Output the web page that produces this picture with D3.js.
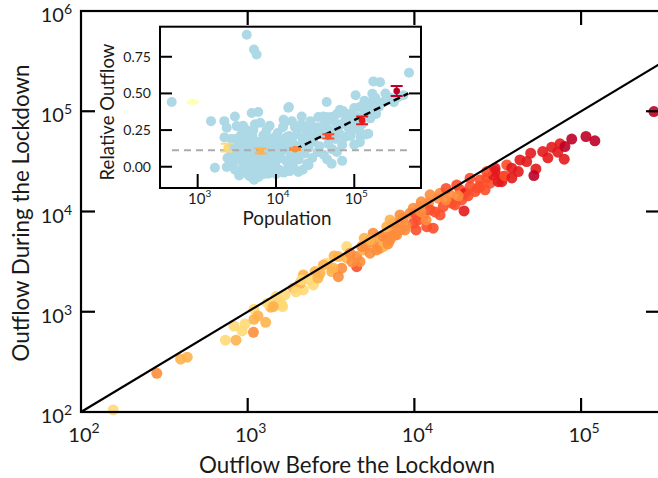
<!DOCTYPE html>
<html><head><meta charset="utf-8">
<script src="https://cdn.jsdelivr.net/npm/d3@7"></script>
<style>
body{margin:0;background:#fff}
svg{display:block}
text{font-family:Lato,'Open Sans',sans-serif;fill:#1a1a1a}
</style>
</head><body>
<svg id="c" width="658" height="478"></svg>
<script>
// ---------- main scatter: outflow before vs during lockdown ----------
const outflowBefore = [156,285,396,434,735,851,828,964,1082,1091,1091,1282,1374,1312,1528,1622,1479,1675,1600,1880,
  2158,2158,2477,2535,2979,3192,3499,3665,3926,4509,4509,4721,4943,5420,5807,6223,6223,6823,7145,7656,
  8000,3926,3499,2844,2366,2061,6500,6823,7470,7830,8200,8570,9420,9840,10550,11300,11860,10820,12140,12420,
  13900,14890,16370,16750,18790,19230,20140,19860,21580,23120,24790,27160,28440,30480,31870,8790,7145,6500,33420,34150,
  35810,38370,42010,42980,47170,49860,53580,52120,58880,66680,72440,74700,79250,80000,87900,107000,121000,273500,24790,29720,
  5660,12970,5940,4830,4110,1563,1426,2716,2109,10090,12420,14260,17950,21580,27160,30480,9860,8200,7145,11000,
  15500,5000,3300,
  6950,8910,10230,10960,13300,15490,17540,20990,24100,34900,38460,63200,5130,4230,3250,2640,1950,1153,925,5420,
  7350,11750,18300,14260,26550];
const outflowDuring = [105,243,336,352,520,520,721,755,624,841,1060,785,1110,1216,1233,1125,1416,1472,1169,1718,
  2328,1652,1851,2514,3048,2514,2240,2717,3420,3548,2818,3162,4140,3837,4831,4305,5610,5210,6545,5834,
  7640,4470,3548,2930,2075,1923,5610,7060,7640,5850,6545,8570,9620,7640,8240,8890,7060,11190,12100,10380,
  13590,11190,14660,12100,16440,13060,15240,10140,17740,15820,20650,21480,19140,25000,19860,6545,5210,4470,19860,22280,
  29170,27040,25000,32730,31480,38190,26610,22800,39630,43850,39080,47320,33270,44460,52720,55980,50700,99300,17740,23180,
  6070,6810,4140,4470,3837,1262,1125,2421,2075,9620,14660,15240,18410,21480,25000,27040,10790,9250,8240,12500,
  17000,5400,3600,
  4750,7180,6545,9910,9910,13060,11640,14320,17220,22650,21610,34270,4540,3140,2735,2170,1578,908,643,5210,
  5710,8240,14320,9250,16440];
// population class of each town (index into binColors)
const populationBin = [1,3,2,2,1,2,1,1,3,2,1,2,2,1,2,1,1,1,1,2,
  2,1,1,2,1,2,3,3,2,3,4,3,2,3,3,3,2,4,3,3,
  3,1,2,2,1,2,3,2,3,3,3,3,3,4,4,4,4,3,3,4,
  3,4,3,4,4,4,5,5,4,4,4,4,4,5,5,3,3,2,5,5,
  4,5,5,5,5,5,5,6,5,5,5,5,5,6,6,6,6,6,4,5,
  3,4,3,3,3,1,2,2,1,4,3,3,4,4,4,5,3,3,2,3,
  4,2,2,
  3,3,4,3,4,3,4,4,4,4,5,5,3,3,2,2,1,2,1,2,
  3,3,3,4,4];
const binColors = ["#ffffb2","#fed976","#feb24c","#fd8d3c","#fc4e2a","#e31a1c","#bd0026"];
const mainTickExponents = [2,3,4,5];
const mainYTickExponents = [2,3,4,5,6];

// ---------- inset: relative outflow vs population ----------
const insetPopulation = [4230,5240,5660,466,1480,2190,2350,2990,3150,4900,5940,1660,3390,5250,7950,14350,13030,3150,4230,5130,
  6890,6250,2580,2350,2850,3800,5660,8330,11200,10000,13700,4230,
  500000,175000,213000,104000,170000,170000,44400,14650,65600,118000,137000,206000,365000,423000,21300,34700,40200,83700,
  151000,118000,56600,51400,34700,23400,17500,17500,19300,14350,25900,31500,62500,92700,76000,46600,28600,42300,
  2600,2700,2900,3100,3300,3400,3600,3700,3900,4000,4100,4300,4400,4600,4700,4800,5000,5100,5300,5500,
  5800,6000,6100,6500,6700,7000,7200,7400,7600,7800,8100,8500,8800,9000,9300,9600,9900,10500,10800,11000,
  11500,12000,12300,12800,13500,14000,14800,15500,16000,16500,17000,18000,18500,19500,20000,21000,22000,23000,24500,26000,
  27500,29000,30000,33000,36000,38000,41000,43000,48000,52000,55000,58000,60000,68000,70000,72000,78000,85000,88000,95000,
  100000,110000,125000,135000,145000,160000,185000,190000,230000,250000,290000,320000,
  3000,4500,6000,7000,8500,10000,12500,15000,22000,26000,45000,60000,70000,100000,120000,
  2400,2700,3500,4200,4600,5200,5400,6800,7500,8300,9500,11000,12500,16000,19000,21000,25000,28000,34000,40000,
  50000,64000,90000,115000,140000,170000,2200,3800,4800,6300];
const insetRelative = [0.90,0.80,0.766,0.441,0.311,0.311,0.266,0.343,0.277,0.366,0.373,-0.007,-0.059,-0.089,-0.048,0.402,0.305,0.191,0.168,0.248,
  0.214,0.134,0.044,-0.002,0.089,-0.002,0.02,0.044,0.089,0.18,0.202,0.066,
  0.641,0.582,0.577,0.487,0.498,0.441,0.441,0.407,0.389,0.407,0.373,0.407,0.475,0.487,0.343,0.339,0.343,0.316,
  0.225,0.168,0.202,0.02,0.10,0.157,0.27,0.044,-0.036,-0.002,0.27,0.225,0.27,0.248,0.202,0.157,0.191,0.293,
  0.13,0.19,0.03,0.11,0.15,0.05,0.22,0.09,0.13,-0.03,0.04,0.19,0.11,0.0,0.07,0.15,0.21,-0.04,0.1,0.05,
  0.17,-0.01,0.08,0.04,0.12,0.18,-0.02,0.09,0.25,0.14,0.02,0.11,0.19,0.07,-0.03,0.13,0.03,0.23,0.15,-0.02,
  0.06,0.11,0.27,0.17,0.04,0.13,0.21,0.08,0.31,0.16,-0.01,0.1,0.22,0.05,0.14,0.29,0.19,0.09,0.24,0.13,
  0.31,0.06,0.17,0.27,0.14,0.22,0.08,0.34,0.25,0.12,0.31,0.19,0.36,0.29,0.15,0.38,0.33,0.26,0.36,0.3,
  0.4,0.34,0.29,0.45,0.39,0.33,0.47,0.36,0.44,0.5,0.47,0.44,
  -0.02,-0.06,-0.07,-0.05,-0.04,-0.05,-0.04,-0.03,-0.02,0.01,0.05,0.1,0.04,0.15,0.21,
  0.06,0.1,0.18,0.25,0.14,0.02,0.29,-0.01,0.2,0.28,0.2,0.18,0.32,0.03,0.26,0.12,0.02,0.24,0.1,0.28,
  0.34,0.23,0.21,0.25,0.22,0.4,0.2,0.28,-0.07,0.3];
// binned means with error bars
const binPopulation = [863,2350,6380,17500,46600,126000,348000];
const binMean = [0.441,0.13,0.107,0.12,0.207,0.316,0.516];
const binError = [0.004,0.026,0.017,0.006,0.014,0.027,0.034];
const baselineLevel = 0.112;          // grey dashed line
const baselineRange = [470,470000];
const fitStart = [17500,0.118], fitEnd = [490000,0.50];   // black dashed fit
const insetYTicks = [0,0.25,0.5,0.75];
const insetXTickExponents = [3,4,5];

// ---------------------------------------------------------------
const svg = d3.select("#c");
const x = d3.scaleLog().domain([1e2,3e5]).range([81,660.6]);
const y = d3.scaleLog().domain([1e2,1e6]).range([412,11]);
const L=81,R=660,T=11,B=412,TK=14;

const main = svg.append("g");
main.selectAll("circle.m").data(outflowBefore).join("circle")
  .attr("class","m")
  .attr("cx",d=>x(d)).attr("cy",(d,i)=>y(outflowDuring[i])).attr("r",5.5)
  .attr("fill",(d,i)=>binColors[populationBin[i]]).attr("fill-opacity",0.9);

main.append("line").attr("x1",x(100)).attr("y1",y(100)).attr("x2",x(3e5)).attr("y2",y(3e5))
  .attr("stroke","#000").attr("stroke-width",2.2);

const fr = svg.append("g").attr("stroke","#000").attr("stroke-width",2.2).attr("fill","none");
fr.append("rect").attr("x",L).attr("y",T).attr("width",R-L).attr("height",B-T);
mainTickExponents.slice(1).forEach(k=>{
  const px=x(10**k);
  fr.append("line").attr("x1",px).attr("x2",px).attr("y1",B).attr("y2",B-TK);
  fr.append("line").attr("x1",px).attr("x2",px).attr("y1",T).attr("y2",T+TK);
});
mainYTickExponents.slice(1,-1).forEach(k=>{
  const py=y(10**k);
  fr.append("line").attr("x1",L).attr("x2",L+TK).attr("y1",py).attr("y2",py);
  fr.append("line").attr("x1",R).attr("x2",R-TK).attr("y1",py).attr("y2",py);
});

function pow10Label(g,px,py,k,anchor,fs,sfs,rise){
  const t=g.append("text").attr("x",px).attr("y",py).attr("text-anchor",anchor).style("font-size",fs+"px");
  t.append("tspan").text("10");
  t.append("tspan").attr("dy",-rise).style("font-size",sfs+"px").text(k);
  return t;
}
mainTickExponents.forEach(k=>pow10Label(svg,x(10**k)+3,442,k,"middle",20,14,9));
mainYTickExponents.forEach(k=>pow10Label(svg,72,y(10**k)+11,k,"end",20,14,8));

function fitText(t,target){
  const n=t.node().getComputedTextLength();
  const fs=parseFloat(t.style("font-size"));
  t.style("font-size",(fs*target/n)+"px");
}
const xt=svg.append("text").attr("x",347).attr("y",473).attr("text-anchor","middle").style("font-size","20px").text("Outflow Before the Lockdown");
fitText(xt,296);
const yt=svg.append("text").attr("transform","translate(29,213) rotate(-90)").attr("text-anchor","middle").style("font-size","20px").text("Outflow During the Lockdown");
fitText(yt,297);

// ---------------- inset ----------------
const IL=160,IR=421,IT=26.7,IB=188,ITK=12;
const ix = d3.scaleLog().domain([10**2.519,10**5.852]).range([IL,IR]);
const iy = d3.scaleLinear().domain([-0.145,0.955]).range([IB,IT]);
const ins = svg.append("g");
ins.append("rect").attr("x",IL).attr("y",IT).attr("width",IR-IL).attr("height",IB-IT).attr("fill","#fff");
ins.append("clipPath").attr("id","icp").append("rect").attr("x",IL).attr("y",IT).attr("width",IR-IL).attr("height",IB-IT);
const ip = ins.append("g").attr("clip-path","url(#icp)");
ip.selectAll("circle").data(insetPopulation).join("circle")
  .attr("cx",d=>ix(d)).attr("cy",(d,i)=>iy(insetRelative[i])).attr("r",5)
  .attr("fill","#add8e6");
ip.append("line").attr("x1",ix(baselineRange[0])).attr("x2",ix(baselineRange[1]))
  .attr("y1",iy(baselineLevel)).attr("y2",iy(baselineLevel))
  .attr("stroke","#ababab").attr("stroke-width",2).attr("stroke-dasharray","7,5");
ip.append("line").attr("x1",ix(fitStart[0])).attr("y1",iy(fitStart[1])).attr("x2",ix(fitEnd[0])).attr("y2",iy(fitEnd[1]))
  .attr("stroke","#000").attr("stroke-width",2.4).attr("stroke-dasharray","7,4");
binPopulation.forEach((p,i)=>{
  const c=binColors[i], cx=ix(p), lo=iy(binMean[i]-binError[i]), hi=iy(binMean[i]+binError[i]);
  const g=ip.append("g").attr("stroke",c).attr("stroke-width",2);
  g.append("line").attr("x1",cx).attr("x2",cx).attr("y1",lo).attr("y2",hi);
  g.append("line").attr("x1",cx-6).attr("x2",cx+6).attr("y1",lo).attr("y2",lo);
  g.append("line").attr("x1",cx-6).attr("x2",cx+6).attr("y1",hi).attr("y2",hi);
  ip.append("circle").attr("cx",cx).attr("cy",iy(binMean[i])).attr("r",3.3).attr("fill",c);
});
const ifr = ins.append("g").attr("stroke","#000").attr("stroke-width",2).attr("fill","none");
ifr.append("rect").attr("x",IL).attr("y",IT).attr("width",IR-IL).attr("height",IB-IT);
insetYTicks.forEach(v=>{
  ifr.append("line").attr("x1",IL).attr("x2",IL+ITK).attr("y1",iy(v)).attr("y2",iy(v));
  ifr.append("line").attr("x1",IR).attr("x2",IR-ITK).attr("y1",iy(v)).attr("y2",iy(v));
  ins.append("text").attr("x",151).attr("y",iy(v)+5).attr("text-anchor","end").style("font-size","14px").text(d3.format(".2f")(v));
});
insetXTickExponents.forEach(k=>{
  const px=ix(10**k);
  ifr.append("line").attr("x1",px).attr("x2",px).attr("y1",IB).attr("y2",IB-ITK-2);
  pow10Label(ins,px+2,204,k,"middle",15,10,7);
});
const pt=ins.append("text").attr("x",287).attr("y",225).attr("text-anchor","middle").style("font-size","18px").text("Population");
fitText(pt,89);
const rt=ins.append("text").attr("transform","translate(114,112) rotate(-90)").attr("text-anchor","middle").style("font-size","17px").text("Relative Outflow");
fitText(rt,137);
</script>
</body></html>
